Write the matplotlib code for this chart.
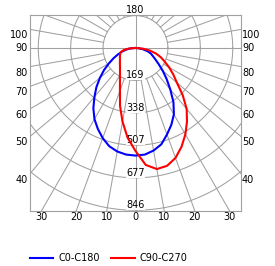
import numpy as np
import matplotlib
matplotlib.use('Agg')
import matplotlib.pyplot as plt

# luminous intensity (cd) every 5 deg, from nadir (0) to horizontal (90)
gamma = [0, 5, 10, 15, 20, 25, 30, 35, 40, 45, 50, 55, 60, 65, 70, 75, 80, 85, 90]
c0 = [561, 558, 543, 520, 480, 442, 400, 345, 282, 230, 186, 148, 120, 100, 85, 65, 40, 18, 0]
c180 = [561, 558, 548, 530, 500, 465, 428, 383, 333, 288, 242, 200, 160, 126, 97, 73, 50, 28, 0]
c90 = [537, 612, 641, 636, 610, 568, 520, 468, 415, 348, 282, 240, 203, 168, 140, 110, 75, 40, 0]
c270 = [537, 470, 390, 312, 237, 192, 162, 141, 126, 115, 106, 99, 94, 89, 86, 78, 62, 36, 0]

ring_values = [169, 338, 507, 677, 846]
side_labels = [40, 50, 60, 70, 80, 90, 100]
bottom_labels = [-30, -20, -10, 0, 10, 20, 30]

xmax = 550
ymin, ymax = -850, 172
px = 5.214  # cd per pixel
grid_c = '#a0a0a0'
fs = 7

fig = plt.figure(figsize=(2.75, 2.66), dpi=100)
ax = fig.add_axes([30/275, 1-211/266, 211/275, 196/266])
ax.set_xlim(-xmax, xmax)
ax.set_ylim(ymin, ymax)
ax.set_xticks([])
ax.set_yticks([])
for s in ax.spines.values():
    s.set_color(grid_c)
    s.set_linewidth(0.8)

# rings
t = np.linspace(0, 2*np.pi, 400)
for r in ring_values:
    ax.plot(r*np.cos(t), r*np.sin(t), color=grid_c, lw=0.75, zorder=1)

# radial lines every 10 deg, starting at first ring
for a in range(0, 360, 10):
    ar = np.radians(a)
    r0 = ring_values[0]
    ax.plot([r0*np.sin(ar), 1200*np.sin(ar)], [-r0*np.cos(ar), -1200*np.cos(ar)],
            color=grid_c, lw=0.75, zorder=1)
ax.plot([-1200, 1200], [0, 0], color=grid_c, lw=0.75, zorder=1)
ax.plot([0, 0], [-1200, 1200], color=grid_c, lw=0.75, zorder=1)

# ring labels
for r in ring_values:
    ax.text(0, -r, str(r), ha='center', va='bottom', fontsize=fs, zorder=2,
            bbox=dict(facecolor='white', edgecolor='none', pad=0))

# side labels
for a in side_labels:
    yi = -xmax / np.tan(np.radians(a)) if a != 90 else 0
    off = 0 if a == 90 else -6*px
    ax.text(-xmax - 2*px, yi + off, str(a), ha='right', va='center', fontsize=fs, clip_on=False)
    ax.text(xmax + 1*px, yi + off, str(a), ha='left', va='center', fontsize=fs, clip_on=False)

for a in bottom_labels:
    xi = -ymin * np.tan(np.radians(a))
    ax.text(xi, ymin - 1*px, str(abs(a)), ha='center', va='top', fontsize=fs, clip_on=False)
ax.text(0, ymax, '180', ha='center', va='bottom', fontsize=fs, clip_on=False)

# curves
g = np.radians(gamma)
def curve(right, left):
    xs = np.concatenate([-np.array(left)[::-1]*np.sin(g[::-1]), np.array(right)*np.sin(g)])
    ys = np.concatenate([-np.array(left)[::-1]*np.cos(g[::-1]), -np.array(right)*np.cos(g)])
    return xs, ys

x1, y1 = curve(c0, c180)
x2, y2 = curve(c90, c270)
l1, = ax.plot(x1, y1, color='#0000ff', lw=1.5, zorder=3, label='C0-C180')
l2, = ax.plot(x2, y2, color='#ff0000', lw=1.5, zorder=3, label='C90-C270')

fig.legend(handles=[l1, l2], loc='center left', bbox_to_anchor=(30/275, 1-258/266),
           ncol=2, frameon=False, fontsize=fs, handlelength=2.4, handletextpad=0.5,
           columnspacing=1.2, borderpad=0, borderaxespad=0)

fig.savefig('out.png', dpi=100)
